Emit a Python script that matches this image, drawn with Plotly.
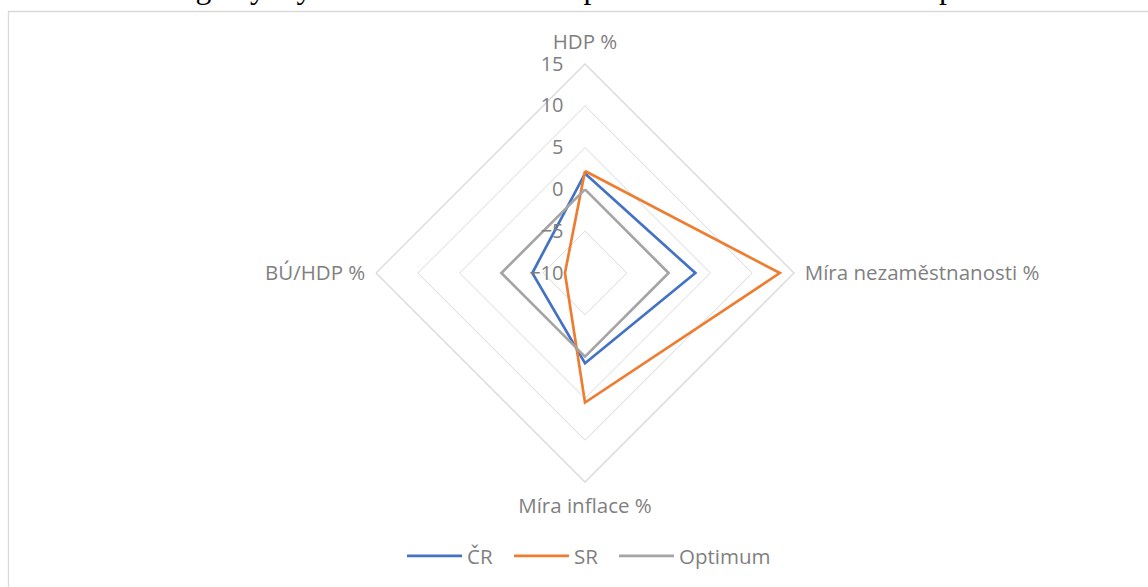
import plotly.graph_objects as go

categories = ["HDP %", "Míra nezaměstnanosti %", "Míra inflace %", "BÚ/HDP %"]
cr_values = [1.9, 3.2, 0.8, -3.7]
sr_values = [2.2, 13.3, 5.5, -7.6]
optimum_values = [0, 0, 0, 0]
radial_ticks = [-10, -5, 0, 5, 10, 15]

W, H = 1148, 587
cx, cy, R = 585, 273, 209

font_family = "Open Sans, Lato, sans-serif"
label_color = "#7F7F7F"

fig = go.Figure()
series = [("ČR", cr_values, "#4472C4", "legend"),
          ("SR", sr_values, "#ED7D31", "legend2"),
          ("Optimum", optimum_values, "#A5A5A5", "legend3")]
for name, vals, color, lg in series:
    fig.add_trace(go.Scatterpolar(
        r=vals + vals[:1],
        theta=categories + categories[:1],
        mode="lines",
        name=name,
        legend=lg,
        line=dict(color=color, width=2.7),
    ))

legend_style = dict(orientation="h", xanchor="left", y=(H - 556) / H, yanchor="middle",
                    font=dict(size=20.5, color=label_color), itemwidth=55)

fig.update_layout(
    width=W, height=H,
    margin=dict(l=0, r=0, t=0, b=0),
    paper_bgcolor="white",
    font=dict(family=font_family, color=label_color, size=20),
    polar=dict(
        domain=dict(x=[(cx - R) / W, (cx + R) / W], y=[(H - cy - R) / H, (H - cy + R) / H]),
        bgcolor="white",
        gridshape="linear",
        radialaxis=dict(
            range=[-10, 15], tickvals=radial_ticks, angle=90, side="counterclockwise",
            tickangle=90,
            showline=False, gridcolor="#D9D9D9", gridwidth=1.3,
            ticks="outside", ticklen=14, tickcolor="rgba(0,0,0,0)",
            tickfont=dict(size=20, color=label_color),
        ),
        angularaxis=dict(
            rotation=90, direction="clockwise", showgrid=False, showline=True,
            linecolor="#D9D9D9", linewidth=1.3,
            ticks="outside", ticklen=6, tickcolor="rgba(0,0,0,0)",
            tickfont=dict(size=20.5, color=label_color),
        ),
    ),
    showlegend=True,
    legend=dict(x=402 / W, **legend_style),
    legend2=dict(x=509 / W, **legend_style),
    legend3=dict(x=614 / W, **legend_style),
)

fig.add_shape(type="rect", xref="paper", yref="paper",
              x0=8.5 / W, x1=1.05, y0=-0.05, y1=(H - 11.5) / H,
              line=dict(color="#D9D9D9", width=1.3), fillcolor="rgba(0,0,0,0)", layer="below")

fig.add_annotation(
    text="Graf 6.16: Magický čtyřúhelník za rok 2004 pro Českou a Slovenskou republiku",
    xref="paper", yref="paper", x=13 / W, y=(H - 7) / H, xanchor="left", yanchor="bottom",
    showarrow=False, font=dict(family="Liberation Serif, Times New Roman, serif", size=31.7, color="black"),
)

fig.write_html("out.html", config={"displayModeBar": False},
               post_script="document.body.style.margin='0';document.body.style.overflow='hidden';")
